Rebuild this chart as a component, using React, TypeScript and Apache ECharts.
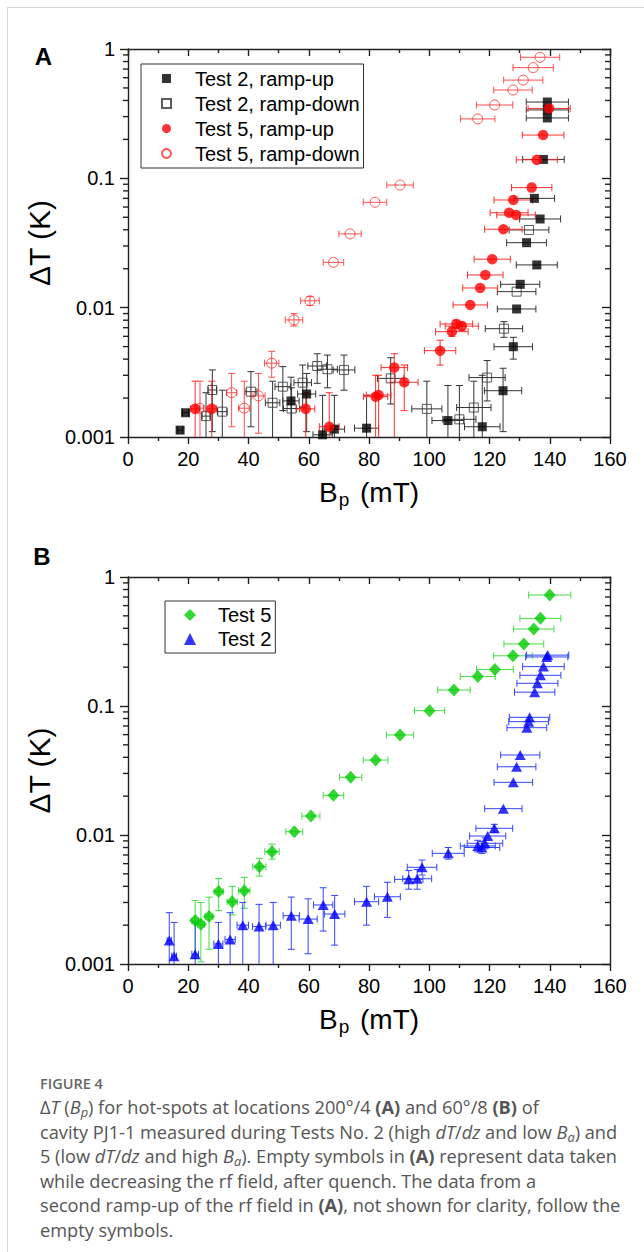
import React, { useEffect, useRef } from 'react';
import * as echarts from 'echarts';

const FONT = '"Liberation Sans", Arial, sans-serif';

// [Bp (mT), dT (K), x error (mT), lower dT, upper dT]
const test2UpA = [
  [17.3, 0.00113, 0.9], [19.1, 0.00154, 1.0], [54.1, 0.0019, 2.7, 0.0006, 0.0029],
  [59.3, 0.00215, 3.0, 0.0011, 0.0031], [64.6, 0.00104, 3.2, 0.0005, 0.0021],
  [68.5, 0.00115, 3.4, 0.0005, 0.0021], [79.2, 0.00117, 4.0, 0.0005, 0.0021],
  [106.2, 0.00134, 5.3, 0.0005, 0.0025], [117.6, 0.0012, 5.9, 0.0005, 0.003],
  [124.5, 0.00228, 6.2, 0.0011, 0.0034], [127.9, 0.00499, 6.4, 0.004, 0.0059],
  [129.0, 0.00977, 6.4], [130.2, 0.01516, 6.5], [132.3, 0.0318, 6.6], [135.7, 0.0214, 6.8],
  [134.9, 0.07, 6.7], [136.8, 0.0485, 6.8], [137.9, 0.14, 6.9], [139.2, 0.293, 7.0],
  [139.2, 0.338, 7.0], [139.2, 0.389, 7.0],
];
const test2DownA = [
  [25.9, 0.00145, 1.3, 0.0008, 0.0022], [28.0, 0.00231, 1.4, 0.0011, 0.0033],
  [31.3, 0.00157, 1.6, 0.0007, 0.0023], [40.8, 0.00224, 2.0, 0.0012, 0.0032],
  [48.0, 0.00184, 2.4, 0.0008, 0.0027], [51.4, 0.00245, 2.6, 0.0016, 0.0035],
  [54.3, 0.00166, 2.7, 0.0009, 0.0024], [58.0, 0.00263, 2.9, 0.0017, 0.0036],
  [62.8, 0.00354, 3.1, 0.0026, 0.0044], [66.2, 0.00334, 3.3, 0.0024, 0.0043],
  [71.7, 0.0033, 3.6, 0.0023, 0.0043], [87.2, 0.00284, 4.4, 0.0018, 0.0041],
  [99.2, 0.00165, 5.0, 0.0005, 0.0027], [110.0, 0.00137, 5.5, 0.0005, 0.0025],
  [114.8, 0.00169, 5.7, 0.0005, 0.0027], [119.2, 0.00288, 6.0, 0.0019, 0.0039],
  [124.8, 0.00688, 6.2, 0.0059, 0.0078], [129.0, 0.0133, 6.4], [133.1, 0.0399, 6.6],
];
const test5UpA = [
  [22.3, 0.00165, 1.5, 0.0007, 0.0027], [27.8, 0.00165, 1.6, 0.0007, 0.0027],
  [59.0, 0.00165, 3.0, 0.0007, 0.0022], [66.8, 0.0012, 3.3, 0.0006, 0.0022],
  [82.2, 0.00205, 4.0, 0.0007, 0.003], [83.2, 0.00211, 4.1, 0.0008, 0.003],
  [88.4, 0.00344, 4.4, 0.0007, 0.0044], [91.7, 0.00265, 4.6, 0.0016, 0.0036],
  [103.6, 0.00465, 5.2, 0.0036, 0.0056], [107.5, 0.00652, 5.4, 0.006, 0.0071],
  [109.0, 0.00748, 5.4, 0.007, 0.008], [110.8, 0.0072, 5.5, 0.0067, 0.0077],
  [113.6, 0.0105, 5.7], [116.9, 0.0142, 5.8], [118.6, 0.0179, 5.9], [120.9, 0.0237, 6.0],
  [124.6, 0.0404, 6.2], [126.5, 0.0542, 6.3], [128.8, 0.0521, 6.4], [127.9, 0.068, 6.4],
  [134.0, 0.0848, 6.7], [135.7, 0.139, 6.8], [137.8, 0.216, 6.9], [139.8, 0.347, 7.0],
];
const test5DownA = [
  [23.9, 0.00167, 1.2, 0.0006, 0.0027], [34.4, 0.0022, 1.7, 0.0012, 0.0031],
  [38.6, 0.00167, 1.9, 0.0006, 0.0027], [43.3, 0.00208, 2.2, 0.00107, 0.0031],
  [47.7, 0.00372, 2.4, 0.0029, 0.0046], [55.1, 0.00804, 2.9, 0.0072, 0.009],
  [60.4, 0.0113, 3.1, 0.0104, 0.0122], [68.2, 0.0224, 3.4], [73.7, 0.0372, 3.7],
  [82.0, 0.0653, 3.9], [90.3, 0.0887, 4.4], [116.1, 0.288, 5.7], [121.7, 0.369, 6.0],
  [127.8, 0.482, 6.4], [131.2, 0.575, 6.5], [134.5, 0.718, 6.7], [136.8, 0.863, 6.5],
];
const test5B = [
  [22.3, 0.00217, 1.1, 0.0011, 0.0031], [24.2, 0.00203, 1.2, 0.00104, 0.003],
  [26.9, 0.00233, 1.3, 0.0013, 0.0033], [30.1, 0.00364, 1.5, 0.0026, 0.0046],
  [34.6, 0.00304, 1.7, 0.0024, 0.004], [38.6, 0.0037, 1.9, 0.0027, 0.0047],
  [43.6, 0.00568, 2.2, 0.0048, 0.0066], [47.8, 0.00743, 2.4, 0.0065, 0.0085],
  [55.2, 0.0106, 2.8], [60.7, 0.01403, 3.0], [68.2, 0.0203, 3.4], [73.9, 0.028, 3.7],
  [82.2, 0.0381, 4.1], [90.3, 0.0596, 4.5], [100.1, 0.092, 5.0], [108.2, 0.133, 5.4],
  [116.1, 0.169, 5.8], [121.8, 0.192, 6.1], [127.8, 0.245, 6.4], [131.4, 0.303, 6.6],
  [134.7, 0.395, 6.7], [136.9, 0.478, 6.8], [140.0, 0.725, 7.0],
];
const test2B = [
  [13.7, 0.00152, 0.7, 0.0006, 0.0025], [15.3, 0.00115, 0.8, 0.0005, 0.0021],
  [22.3, 0.00119, 1.1, 0.0005, 0.0021], [30.0, 0.00143, 1.5, 0.0005, 0.0021],
  [33.9, 0.00155, 1.7, 0.0005, 0.0025], [38.1, 0.002, 1.9, 0.0005, 0.003],
  [43.5, 0.00195, 2.2, 0.0005, 0.0029], [48.2, 0.002, 2.4, 0.0005, 0.003],
  [54.2, 0.00237, 2.7, 0.0013, 0.0033], [59.8, 0.00223, 3.0, 0.0012, 0.0032],
  [64.8, 0.00287, 3.2, 0.0018, 0.0039], [68.6, 0.00244, 3.4, 0.0014, 0.0034],
  [79.2, 0.00304, 4.0, 0.002, 0.004], [86.1, 0.00332, 4.3, 0.0023, 0.0043],
  [93.2, 0.00453, 4.7, 0.0038, 0.0053], [96.0, 0.00458, 4.8, 0.0038, 0.0054],
  [97.6, 0.00562, 4.9, 0.0049, 0.0064], [106.3, 0.00721, 5.3, 0.0065, 0.008],
  [116.1, 0.00822, 5.8, 0.0074, 0.0091], [117.5, 0.008, 5.9, 0.0072, 0.0089],
  [118.5, 0.00863, 5.9, 0.0078, 0.0095], [119.4, 0.00982, 6.0],
  [121.6, 0.01127, 6.1, 0.0105, 0.0121], [124.6, 0.016, 6.2], [127.9, 0.0256, 6.4],
  [129.0, 0.0338, 6.4], [130.2, 0.0417, 6.5], [132.4, 0.0679, 6.6], [133.0, 0.0756, 6.6],
  [133.3, 0.0817, 6.7], [135.0, 0.128, 6.7], [135.9, 0.15, 6.8], [136.9, 0.173, 6.8],
  [137.9, 0.202, 6.9], [139.0, 0.24, 7.0], [139.3, 0.248, 7.0],
];

const xTicks = { min: 0, max: 160, interval: 20 };
const yTickLabels = ['0.001', '0.01', '0.1', '1'];
const yMinorTicks = [
  0.002, 0.003, 0.004, 0.005, 0.006, 0.007, 0.008, 0.009,
  0.02, 0.03, 0.04, 0.05, 0.06, 0.07, 0.08, 0.09,
  0.2, 0.3, 0.4, 0.5, 0.6, 0.7, 0.8, 0.9,
];
const legendA = ['Test 2, ramp-up', 'Test 2, ramp-down', 'Test 5, ramp-up', 'Test 5, ramp-down'];
const legendB = ['Test 5', 'Test 2'];

const AXIS_COLOR = '#222';
const lineStyle = { color: AXIS_COLOR, width: 1.4 };

const full = (arr: number[][]) =>
  arr.map((p) => [p[0], p[1], p[2] ?? 0, p[3] ?? p[1], p[4] ?? p[1]]);

const errRender = (color: string, cap: number) => (params: any, api: any) => {
  const x = api.value(0), y = api.value(1), xe = api.value(2), lo = api.value(3), hi = api.value(4);
  const c = api.coord([x, y]);
  const style = { stroke: color, lineWidth: 1, fill: 'none' };
  const ch: any[] = [];
  const ln = (x1: number, y1: number, x2: number, y2: number) =>
    ch.push({ type: 'line', shape: { x1, y1, x2, y2 }, style });
  if (xe > 0) {
    const l = api.coord([x - xe, y]);
    const r = api.coord([x + xe, y]);
    ln(l[0], l[1], r[0], r[1]);
    ln(l[0], l[1] - cap, l[0], l[1] + cap);
    ln(r[0], r[1] - cap, r[0], r[1] + cap);
  }
  if (hi > y * 1.001) {
    const t = api.coord([x, hi]);
    ln(c[0], c[1], t[0], t[1]);
    ln(t[0] - cap, t[1], t[0] + cap, t[1]);
  }
  if (lo < y * 0.999) {
    const b = api.coord([x, lo]);
    ln(c[0], c[1], b[0], b[1]);
    ln(b[0] - cap, b[1], b[0] + cap, b[1]);
  }
  return { type: 'group', children: ch };
};

const errSeries = (id: string, arr: number[][], axis: number, color: string) => ({
  type: 'custom',
  id,
  name: id,
  xAxisIndex: axis,
  yAxisIndex: axis,
  dimensions: ['x', 'y', 'xe', 'lo', 'hi'],
  encode: { x: 0, y: 1 },
  data: full(arr),
  renderItem: errRender(color, 3.5),
  clip: true,
  silent: true,
  z: 1,
});

// minor ticks of the log axes (2..9 in every decade), placed through the y scale
const minorTickSeries = (id: string, axis: number) => ({
  type: 'custom',
  id,
  name: id,
  xAxisIndex: axis,
  yAxisIndex: axis,
  encode: { x: 0, y: 1 },
  data: yMinorTicks.map((v) => [xTicks.min, v]),
  renderItem: (params: any, api: any) => {
    const v = api.value(1);
    const l = api.coord([xTicks.min, v]);
    const r = api.coord([xTicks.max, v]);
    const style = { stroke: AXIS_COLOR, lineWidth: 1.4 };
    return {
      type: 'group',
      children: [
        { type: 'line', shape: { x1: l[0] - 5, y1: l[1], x2: l[0], y2: l[1] }, style },
        { type: 'line', shape: { x1: r[0] - 5, y1: r[1], x2: r[0], y2: r[1] }, style },
      ],
    };
  },
  clip: false,
  silent: true,
  z: 5,
});

const dotSeries = (name: string, arr: number[][], axis: number, symbol: string, size: any, itemStyle: any) => ({
  type: 'scatter',
  name,
  xAxisIndex: axis,
  yAxisIndex: axis,
  symbol,
  symbolSize: size,
  data: arr.map((p) => [p[0], p[1]]),
  itemStyle,
  clip: true,
  silent: true,
  z: 3,
});

const xAxisPair = (grid: number) => [
  {
    type: 'value', gridIndex: grid, position: 'bottom', ...xTicks,
    axisLine: { show: true, onZero: false, lineStyle },
    axisTick: { show: true, inside: false, length: 7, lineStyle },
    minorTick: { show: true, splitNumber: 2, length: 4, lineStyle },
    splitLine: { show: false },
    axisLabel: { show: true, margin: 12, fontSize: 20, fontFamily: FONT, color: '#000' },
    name: '{a|B}{b|p}{a| (mT)}',
    nameLocation: 'middle',
    nameGap: 41,
    nameTextStyle: {
      rich: {
        a: { fontSize: 28, fontFamily: FONT, color: '#000', lineHeight: 31, verticalAlign: 'top' },
        b: { fontSize: 19, fontFamily: FONT, color: '#000', lineHeight: 19, verticalAlign: 'bottom', padding: [17, 3, 0, 1] },
      },
    },
  },
  {
    type: 'value', gridIndex: grid, position: 'top', ...xTicks,
    axisLine: { show: true, onZero: false, lineStyle },
    axisTick: { show: true, inside: true, length: 7, lineStyle },
    minorTick: { show: true, splitNumber: 2, length: 4, lineStyle },
    splitLine: { show: false },
    axisLabel: { show: false },
  },
];

const yAxisSet = (grid: number) => [
  {
    type: 'log', logBase: 10, gridIndex: grid, position: 'left', min: 0.001, max: 1,
    axisLine: { show: true, onZero: false, lineStyle },
    axisTick: { show: true, inside: false, length: 8, lineStyle },
    minorTick: { show: false },
    splitLine: { show: false },
    axisLabel: {
      show: true, margin: 13, fontSize: 20, fontFamily: FONT, color: '#000',
      formatter: (v: number) => yTickLabels[Math.round(Math.log10(v)) + 3] ?? '',
    },
    name: 'ΔT (K)',
    nameLocation: 'middle',
    nameGap: 58,
    nameTextStyle: { fontSize: 30, fontFamily: FONT, color: '#000' },
  },
  {
    type: 'log', logBase: 10, gridIndex: grid, position: 'right', min: 0.001, max: 1,
    axisLine: { show: true, onZero: false, lineStyle },
    axisTick: { show: true, inside: true, length: 8, lineStyle },
    minorTick: { show: false },
    splitLine: { show: false },
    axisLabel: { show: false },
  },
];

const legendBase = {
  orient: 'vertical',
  itemGap: 0,
  borderColor: '#333',
  borderWidth: 1,
  backgroundColor: '#fff',
  selectedMode: false,
};

const option: any = {
  animation: false,
  backgroundColor: 'transparent',
  grid: [
    { left: 128, top: 49, width: 482, height: 388 },
    { left: 128, top: 577, width: 482, height: 387 },
  ],
  xAxis: [...xAxisPair(0), ...xAxisPair(1)],
  yAxis: [...yAxisSet(0), ...yAxisSet(1)],
  legend: [
    {
      ...legendBase,
      data: legendA,
      left: 141, top: 64,
      padding: [2, 4, 2, 20],
      itemWidth: 9, itemHeight: 9,
      textStyle: { fontSize: 20, lineHeight: 25, fontFamily: FONT, color: '#000', padding: [0, 0, 0, 19] },
    },
    {
      ...legendBase,
      data: legendB,
      left: 165, top: 601,
      padding: [2, 4, 2, 19],
      itemWidth: 12, itemHeight: 12,
      textStyle: { fontSize: 20, lineHeight: 24, fontFamily: FONT, color: '#000', padding: [0, 0, 0, 17] },
    },
  ],
  graphic: [
    { type: 'text', x: 43.5, y: 56, style: { text: 'A', fontSize: 24, fontWeight: 'bold', fontFamily: FONT, fill: '#000', align: 'center', verticalAlign: 'middle' } },
    { type: 'text', x: 42, y: 556, style: { text: 'B', fontSize: 24, fontWeight: 'bold', fontFamily: FONT, fill: '#000', align: 'center', verticalAlign: 'middle' } },
  ],
  series: [
    minorTickSeries('minor-a', 0),
    minorTickSeries('minor-b', 2),
    errSeries('e-t2up', test2UpA, 0, '#333'),
    errSeries('e-t2down', test2DownA, 0, '#333'),
    errSeries('e-t5up', test5UpA, 0, '#ff3030'),
    errSeries('e-t5down', test5DownA, 0, '#ff5050'),
    errSeries('e-b5', test5B, 2, '#44dd44'),
    errSeries('e-b2', test2B, 2, '#3344ff'),
    dotSeries(legendA[1], test2DownA, 0, 'rect', 9, { color: 'transparent', borderColor: '#333', borderWidth: 1 }),
    dotSeries(legendA[3], test5DownA, 0, 'circle', 10, { color: 'transparent', borderColor: '#ff2a2a', borderWidth: 1 }),
    dotSeries(legendA[0], test2UpA, 0, 'rect', 9, { color: '#000' }),
    dotSeries(legendA[2], test5UpA, 0, 'circle', 10.5, { color: '#ff0000' }),
    dotSeries(legendB[0], test5B, 2, 'diamond', [12, 13], { color: '#00cc00' }),
    dotSeries(legendB[1], test2B, 2, 'triangle', [11, 10], { color: '#0000ff' }),
  ],
};

export default function App() {
  const ref = useRef<HTMLDivElement>(null);
  useEffect(() => {
    const chart = echarts.init(ref.current!, null, { renderer: 'svg' });
    chart.setOption(option);
    return () => chart.dispose();
  }, []);
  const cap: React.CSSProperties = { whiteSpace: 'nowrap' };
  const sub: React.CSSProperties = { fontSize: '0.7em', verticalAlign: '-0.25em', lineHeight: 0 };
  return (
    <div style={{ position: 'absolute', left: 0, top: 0, width: 644, height: 1252, background: '#fff', overflow: 'hidden' }}>
      <div ref={ref} style={{ position: 'absolute', left: 0, top: 0, width: 644, height: 1050 }} />
      <div style={{ position: 'absolute', left: 7, top: 7, width: 700, height: 1300, borderLeft: '1px solid #d9d9d9', borderTop: '1px solid #d9d9d9', pointerEvents: 'none' }} />
      <div style={{ position: 'absolute', left: 40, top: 1072, fontFamily: '"Open Sans", sans-serif', color: '#555' }}>
        <div style={{ fontSize: 14.5, lineHeight: '23px', color: '#666', fontWeight: 600 }}>FIGURE 4</div>
        <div style={{ fontSize: 18.2, lineHeight: '24.6px' }}>
          <div style={cap}>Δ<i>T</i> (<i>B</i><sub style={sub}><i>p</i></sub>) for hot-spots at locations 200°/4 <b>(A)</b> and 60°/8 <b>(B)</b> of</div>
          <div style={cap}>cavity PJ1-1 measured during Tests No. 2 (high <i>dT</i>/<i>dz</i> and low <i>B</i><sub style={sub}><i>a</i></sub>) and</div>
          <div style={cap}>5 (low <i>dT</i>/<i>dz</i> and high <i>B</i><sub style={sub}><i>a</i></sub>). Empty symbols in <b>(A)</b> represent data taken</div>
          <div style={cap}>while decreasing the rf field, after quench. The data from a</div>
          <div style={cap}>second ramp-up of the rf field in <b>(A)</b>, not shown for clarity, follow the</div>
          <div style={cap}>empty symbols.</div>
        </div>
      </div>
    </div>
  );
}
